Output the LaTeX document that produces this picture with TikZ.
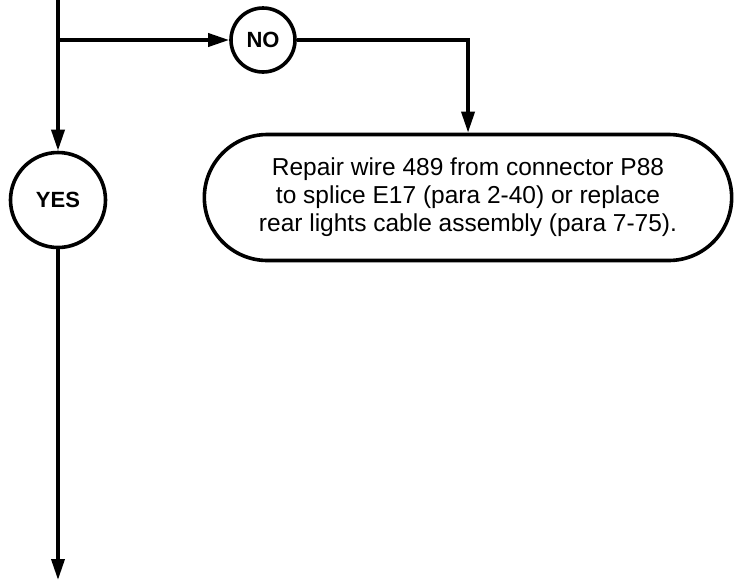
\documentclass[tikz,border=0pt]{standalone}
\usepackage{fontspec}
\setmainfont{Liberation Sans}
\usetikzlibrary{arrows.meta,shapes.misc}
\begin{document}
\begin{tikzpicture}[x=1pt, y=-1pt, line width=3.6pt,
    flow/.style={-{Triangle[length=21pt,width=13pt]}},
    answer/.style={draw, circle, inner sep=0pt, font=\fontsize{22}{26}\selectfont\bfseries},
    action/.style={draw, rounded rectangle, align=center, minimum width=534pt,
      minimum height=126pt, font=\fontsize{24.5}{28}\selectfont}]
  \useasboundingbox (0,0) rectangle (740,582);
  \coordinate (top) at (58,0);
  \coordinate (split) at (58,40);
  \coordinate (bottom) at (58,580);
  \node[answer, minimum size=64pt] (no) at (263,40) {NO};
  \node[answer, minimum size=95pt] (yes) at (58,200) {YES};
  \node[action] (repair) at (468,197.5) {Repair wire 489 from connector P88\\
    to splice E17 (para 2-40) or replace\\rear lights cable assembly (para 7-75).};
  \draw[flow] (top) -- (yes);
  \draw[flow] (split) -- (no);
  \draw[flow] (no) -| (repair);
  \draw[flow] (yes) -- (bottom);
\end{tikzpicture}
\end{document}
